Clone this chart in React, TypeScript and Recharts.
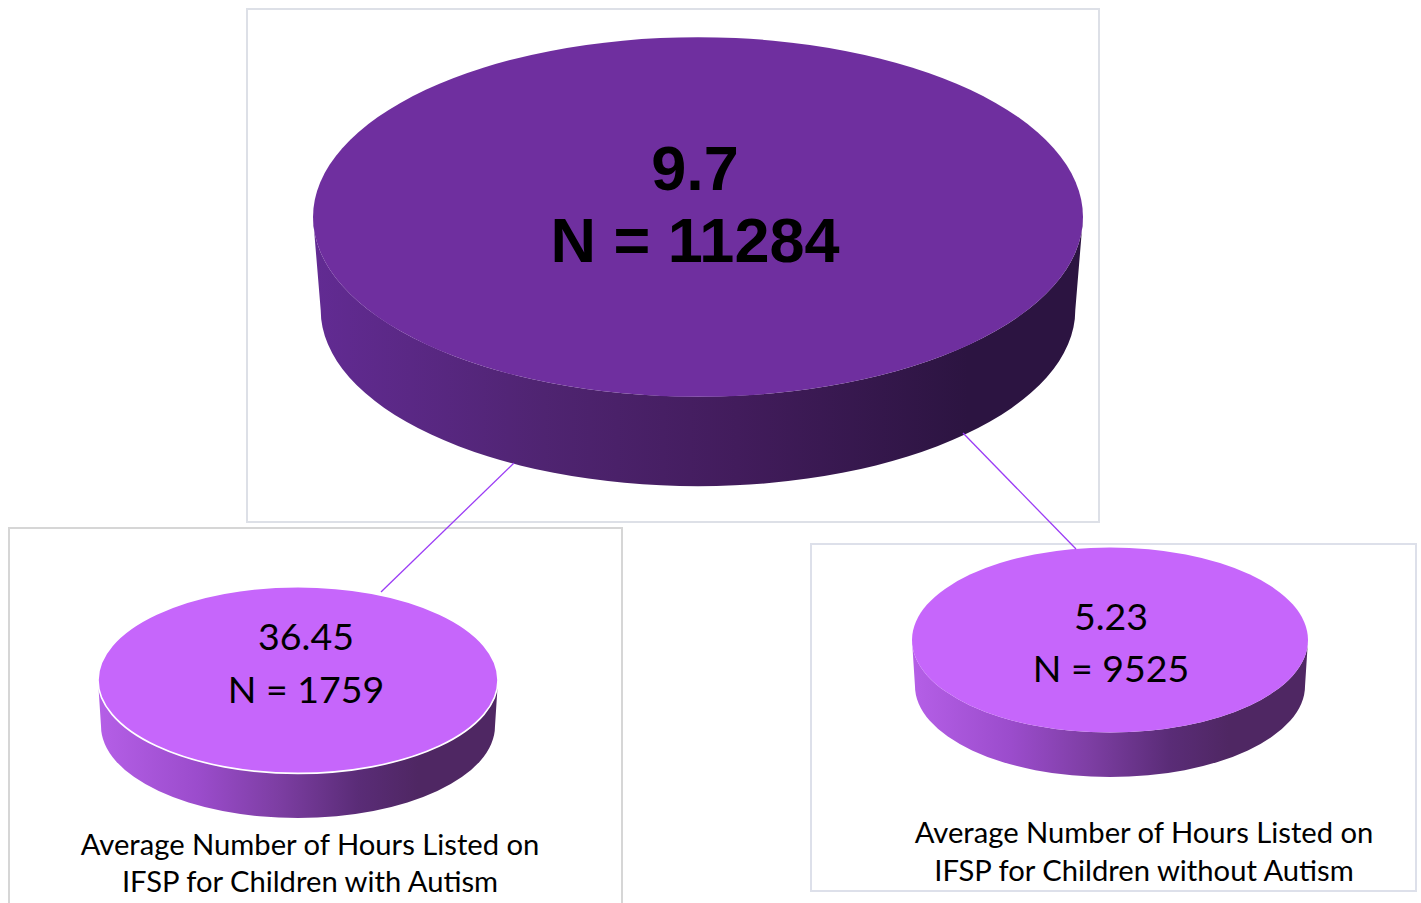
import React from 'react';
import { PieChart, Pie } from 'recharts';

// values
const groups = ['All children', 'Children with Autism', 'Children without Autism'];
const avgHours = [9.7, 36.45, 5.23];
const childCounts = [11284, 1759, 9525];
const captions = [
  [] as string[],
  ['Average Number of Hours Listed on', 'IFSP for Children with Autism'],
  ['Average Number of Hours Listed on', 'IFSP for Children without Autism'],
];

const TILT = 0.467;

// disc placement / look (page coordinates)
const discs = [
  {
    cx: 698, cy: 217, r: 385, depth: 93, shrink: 0.98, top: '#6f2f9f', edge: 'none',
    stops: [['0%', '#622b93'], ['30%', '#4f2471'], ['55%', '#421c5c'], ['85%', '#2c1441'], ['100%', '#2c1441']],
  },
  {
    cx: 298, cy: 680, r: 200, depth: 46, shrink: 0.985, top: '#c666fb', edge: '#ffffff',
    stops: [['0%', '#b55fe7'], ['25%', '#9b4ccc'], ['45%', '#7d3ea3'], ['65%', '#5a2c77'], ['80%', '#4f2763'], ['100%', '#4f2763']],
  },
  {
    cx: 1110, cy: 640, r: 198, depth: 46, shrink: 0.985, top: '#c666fb', edge: 'none',
    stops: [['0%', '#b55fe7'], ['25%', '#9b4ccc'], ['45%', '#7d3ea3'], ['65%', '#5a2c77'], ['80%', '#4f2763'], ['100%', '#4f2763']],
  },
];

const boxes = [
  { left: 246, top: 8, width: 854, height: 515, color: '#dde0e7' },
  { left: 8, top: 527, width: 615, height: 390, color: '#d6d6d6' },
  { left: 810, top: 543, width: 607, height: 349, color: '#dde0ea' },
];

const connectors = [
  [514, 463, 381, 592],
  [963, 433, 1076, 549],
];

const valueText = [
  { x: 695, y1: 190, y2: 262, size: 63, weight: 700, family: '"Liberation Sans", Arial, sans-serif' },
  { x: 306, y1: 650, y2: 703, size: 37.5, weight: 400, family: 'Lato, sans-serif' },
  { x: 1111, y1: 630, y2: 682, size: 37.5, weight: 400, family: 'Lato, sans-serif' },
];

const captionPos = [
  { x: 0, y: 0, gap: 0 },
  { x: 310, y: 855, gap: 37 },
  { x: 1144, y: 843, gap: 38 },
];

const renderDisc = (i: number) => (p: any) => {
  const d = discs[i];
  const rx = p.outerRadius;
  const ry = rx * TILT;
  const rxb = rx * d.shrink;
  const ryb = ry * d.shrink;
  const cyb = p.cy + d.depth;
  const gid = `disc-side-${i}`;
  const side =
    `M ${p.cx - rx} ${p.cy} A ${rx} ${ry} 0 0 0 ${p.cx + rx} ${p.cy} ` +
    `L ${p.cx + rxb} ${cyb} A ${rxb} ${ryb} 0 0 1 ${p.cx - rxb} ${cyb} Z`;
  return (
    <g>
      <defs>
        <linearGradient id={gid} gradientUnits="userSpaceOnUse" x1={p.cx - rx} x2={p.cx + rx} y1={0} y2={0}>
          {d.stops.map(([o, c]) => (
            <stop key={o} offset={o} stopColor={c} />
          ))}
        </linearGradient>
      </defs>
      <path d={side} fill={`url(#${gid})`} />
      <ellipse cx={p.cx} cy={p.cy} rx={rx} ry={ry} fill={d.top} stroke={d.edge} strokeWidth={1.6} />
    </g>
  );
};

export default function App() {
  return (
    <div style={{ position: 'absolute', left: 0, top: 0, width: 1421, height: 903, overflow: 'hidden', background: '#fff' }}>
      {boxes.map((b, i) => (
        <div
          key={i}
          style={{
            position: 'absolute', left: b.left, top: b.top, width: b.width, height: b.height,
            boxSizing: 'border-box', border: `2px solid ${b.color}`, background: '#fff',
          }}
        />
      ))}
      <div style={{ position: 'absolute', left: 0, top: 0 }}>
        <PieChart width={1421} height={903} margin={{ top: 0, right: 0, bottom: 0, left: 0 }}>
          {groups.map((g, i) => (
            <Pie
              key={g}
              data={[{ name: g, value: childCounts[i], hours: avgHours[i] }]}
              dataKey="value"
              nameKey="name"
              cx={discs[i].cx}
              cy={discs[i].cy}
              innerRadius={0}
              outerRadius={discs[i].r}
              startAngle={90}
              endAngle={-270}
              stroke="none"
              fill={discs[i].top}
              shape={renderDisc(i)}
              isAnimationActive={false}
            />
          ))}
        </PieChart>
      </div>
      <svg width={1421} height={903} style={{ position: 'absolute', left: 0, top: 0, pointerEvents: 'none' }}>
        {connectors.map(([x1, y1, x2, y2], i) => (
          <line key={i} x1={x1} y1={y1} x2={x2} y2={y2} stroke="#9b3cf5" strokeWidth={1.3} />
        ))}
        {groups.map((g, i) => {
          const t = valueText[i];
          return (
            <g key={g} fontFamily={t.family} fontWeight={t.weight} fontSize={t.size} fill="#000" textAnchor="middle">
              <text x={t.x} y={t.y1}>{String(avgHours[i])}</text>
              <text x={t.x} y={t.y2}>{`N = ${childCounts[i]}`}</text>
            </g>
          );
        })}
        {captions.map((lines, i) =>
          lines.map((line, j) => (
            <text
              key={`${i}-${j}`}
              x={captionPos[i].x}
              y={captionPos[i].y + j * captionPos[i].gap}
              textAnchor="middle"
              fontFamily="Lato, sans-serif"
              fontSize={29.2}
              fill="#000"
            >
              {line}
            </text>
          ))
        )}
      </svg>
    </div>
  );
}
